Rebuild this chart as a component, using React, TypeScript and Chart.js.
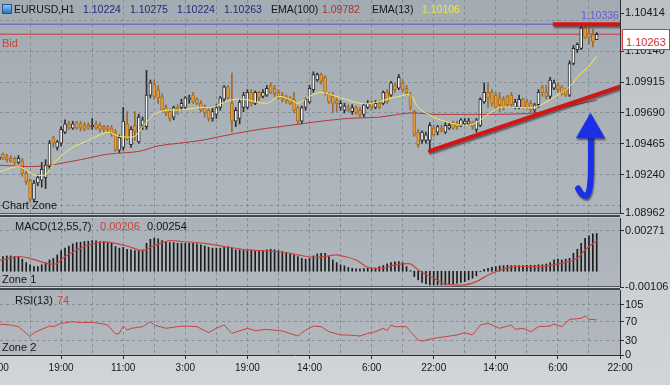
import React, { useEffect, useRef } from 'react';
import { Chart, registerables } from 'chart.js';

Chart.register(...registerables);

// ---------- price data (H1 candles, bar index 0..154) ----------
const OPEN = [
  1.0935, 1.0939, 1.0937, 1.0936, 1.0936, 1.0933, 1.0934, 1.0925, 1.0920, 1.0906,
  1.0918, 1.0920, 1.0922, 1.0930, 1.0951, 1.0944, 1.0947, 1.0955, 1.0961, 1.0958,
  1.0962, 1.0961, 1.0960, 1.0960, 1.0959, 1.0961, 1.0960, 1.0959, 1.0959, 1.0958,
  1.0955, 1.0942, 1.0944, 1.0961, 1.0946, 1.0960, 1.0948, 1.0960, 1.0959, 1.0982,
  1.0990, 1.0986, 1.0981, 1.0973, 1.0970, 1.0966, 1.0973, 1.0973, 1.0973, 1.0979,
  1.0982, 1.0979, 1.0976, 1.0973, 1.0971, 1.0965, 1.0968, 1.0973, 1.0979, 1.0988,
  1.0976, 1.0963, 1.0965, 1.0973, 1.0973, 1.0984, 1.0976, 1.0984, 1.0981, 1.0982,
  1.0989, 1.0987, 1.0984, 1.0982, 1.0981, 1.0980, 1.0979, 1.0973, 1.0963, 1.0973,
  1.0977, 1.0986, 1.0993, 1.0997, 1.0995, 1.0983, 1.0981, 1.0978, 1.0973, 1.0971,
  1.0973, 1.0970, 1.0973, 1.0971, 1.0968, 1.0973, 1.0976, 1.0973, 1.0976, 1.0976,
  1.0984, 1.0982, 1.0989, 1.0987, 1.0991, 1.0987, 1.0982, 1.0970, 1.0955, 1.0949,
  1.0949, 1.0949, 1.0958, 1.0955, 1.0958, 1.0955, 1.0958, 1.0962, 1.0961, 1.0960,
  1.0961, 1.0961, 1.0962, 1.0957, 1.0960, 1.0977, 1.0984, 1.0984, 1.0982, 1.0980,
  1.0979, 1.0981, 1.0982, 1.0973, 1.0973, 1.0979, 1.0977, 1.0976, 1.0971, 1.0975,
  1.0988, 1.0984, 1.0981, 1.0987, 1.0989, 1.0988, 1.0986, 1.0982, 1.1005, 1.1015,
  1.1016, 1.1031, 1.1027, 1.1026, 1.10224,
];
const HIGH = [
  1.0939, 1.0940, 1.0939, 1.0938, 1.0937, 1.0938, 1.0936, 1.0927, 1.0921, 1.0920,
  1.0924, 1.0933, 1.0935, 1.0949, 1.0952, 1.0949, 1.0959, 1.0964, 1.0963, 1.0963,
  1.0963, 1.0963, 1.0962, 1.0962, 1.0965, 1.0963, 1.0962, 1.0960, 1.0960, 1.0960,
  1.0957, 1.0953, 1.0973, 1.0970, 1.0959, 1.0970, 1.0968, 1.0966, 1.1000, 1.0993,
  1.0993, 1.0989, 1.0983, 1.0975, 1.0972, 1.0974, 1.0975, 1.0979, 1.0981, 1.0982,
  1.0984, 1.0980, 1.0978, 1.0975, 1.0973, 1.0973, 1.0975, 1.0981, 1.0989, 1.0989,
  1.0998, 1.0973, 1.0979, 1.0984, 1.0986, 1.0986, 1.0985, 1.0985, 1.0986, 1.0989,
  1.0991, 1.0989, 1.0986, 1.0984, 1.0982, 1.0981, 1.0984, 1.0974, 1.0974, 1.0980,
  1.0989, 1.0999, 1.0998, 1.0998, 1.0996, 1.0984, 1.0984, 1.0980, 1.0978, 1.0976,
  1.0975, 1.0975, 1.0974, 1.0973, 1.0976, 1.0978, 1.0978, 1.0978, 1.0978, 1.0985,
  1.0986, 1.0992, 1.0991, 1.0997, 1.0993, 1.0989, 1.0984, 1.0971, 1.0957, 1.0956,
  1.0955, 1.0962, 1.0960, 1.0960, 1.0960, 1.0962, 1.0962, 1.0963, 1.0963, 1.0965,
  1.0965, 1.0965, 1.0963, 1.0965, 1.0980, 1.0991, 1.0991, 1.0986, 1.0984, 1.0984,
  1.0981, 1.0982, 1.0984, 1.0979, 1.0982, 1.0980, 1.0979, 1.0978, 1.0976, 1.0986,
  1.0989, 1.0989, 1.0995, 1.0993, 1.0991, 1.0989, 1.0987, 1.1007, 1.1018, 1.1020,
  1.10336, 1.1032, 1.1031, 1.1030, 1.10275,
];
const LOW = [
  1.0933, 1.0935, 1.0933, 1.0933, 1.0931, 1.0932, 1.0923, 1.0917, 1.0904, 1.0904,
  1.0916, 1.0915, 1.0914, 1.0928, 1.0944, 1.0942, 1.0945, 1.0954, 1.0957, 1.0957,
  1.0957, 1.0956, 1.0956, 1.0957, 1.0957, 1.0957, 1.0955, 1.0955, 1.0955, 1.0952,
  1.0941, 1.0940, 1.0942, 1.0949, 1.0944, 1.0949, 1.0947, 1.0957, 1.0957, 1.0980,
  1.0979, 1.0976, 1.0970, 1.0967, 1.0963, 1.0964, 1.0968, 1.0971, 1.0972, 1.0976,
  1.0976, 1.0975, 1.0970, 1.0966, 1.0963, 1.0963, 1.0965, 1.0971, 1.0977, 1.0979,
  1.0955, 1.0959, 1.0961, 1.0970, 1.0972, 1.0974, 1.0975, 1.0978, 1.0980, 1.0981,
  1.0983, 1.0981, 1.0979, 1.0977, 1.0976, 1.0975, 1.0969, 1.0961, 1.0961, 1.0971,
  1.0976, 1.0984, 1.0992, 1.0990, 1.0982, 1.0976, 1.0969, 1.0970, 1.0971, 1.0969,
  1.0970, 1.0968, 1.0968, 1.0966, 1.0966, 1.0972, 1.0971, 1.0972, 1.0972, 1.0975,
  1.0976, 1.0981, 1.0984, 1.0986, 1.0984, 1.0982, 1.0971, 1.0952, 1.0944, 1.0947,
  1.0947, 1.0941, 1.0952, 1.0953, 1.0955, 1.0954, 1.0957, 1.0957, 1.0957, 1.0959,
  1.0960, 1.0960, 1.0957, 1.0955, 1.0959, 1.0976, 1.0973, 1.0974, 1.0972, 1.0970,
  1.0971, 1.0973, 1.0973, 1.0972, 1.0972, 1.0972, 1.0972, 1.0970, 1.0969, 1.0973,
  1.0981, 1.0979, 1.0979, 1.0986, 1.0984, 1.0982, 1.0981, 1.0981, 1.1004, 1.1013,
  1.1015, 1.1023, 1.1019, 1.1017, 1.10224,
];
const CLOSE = [
  1.0937, 1.0936, 1.0935, 1.0934, 1.0933, 1.0936, 1.0925, 1.0919, 1.0906, 1.0918,
  1.0922, 1.0928, 1.0931, 1.0947, 1.0947, 1.0948, 1.0957, 1.0961, 1.0958, 1.0961,
  1.0958, 1.0958, 1.0957, 1.0958, 1.0960, 1.0958, 1.0957, 1.0957, 1.0957, 1.0954,
  1.0942, 1.0951, 1.0963, 1.0950, 1.0957, 1.0956, 1.0966, 1.0964, 1.0982, 1.0991,
  1.0981, 1.0980, 1.0971, 1.0969, 1.0965, 1.0973, 1.0971, 1.0976, 1.0980, 1.0980,
  1.0977, 1.0976, 1.0971, 1.0969, 1.0965, 1.0970, 1.0973, 1.0980, 1.0988, 1.0980,
  1.0963, 1.0971, 1.0977, 1.0982, 1.0984, 1.0976, 1.0984, 1.0980, 1.0984, 1.0987,
  1.0984, 1.0983, 1.0981, 1.0979, 1.0978, 1.0976, 1.0971, 1.0963, 1.0973, 1.0979,
  1.0987, 1.0997, 1.0997, 1.0992, 1.0984, 1.0977, 1.0976, 1.0976, 1.0976, 1.0974,
  1.0971, 1.0973, 1.0969, 1.0968, 1.0975, 1.0976, 1.0973, 1.0976, 1.0973, 1.0984,
  1.0977, 1.0991, 1.0986, 1.0995, 1.0986, 1.0984, 1.0973, 1.0953, 1.0946, 1.0955,
  1.0953, 1.0960, 1.0953, 1.0959, 1.0956, 1.0960, 1.0960, 1.0958, 1.0959, 1.0964,
  1.0963, 1.0963, 1.0959, 1.0964, 1.0979, 1.0984, 1.0980, 1.0976, 1.0973, 1.0975,
  1.0973, 1.0975, 1.0975, 1.0977, 1.0979, 1.0973, 1.0973, 1.0971, 1.0975, 1.0984,
  1.0984, 1.0981, 1.0993, 1.0991, 1.0986, 1.0984, 1.0982, 1.1005, 1.1016, 1.1019,
  1.1031, 1.1024, 1.1024, 1.1021, 1.10263,
];

// ---------- moving averages (read at sample bars) ----------
const EMA13_BARS = [0, 5, 9, 12, 13, 15, 19, 23, 28, 31, 35, 37, 40, 43, 46, 52, 55, 59, 63, 69, 72, 75, 77, 80, 83, 88, 93, 96, 100, 103, 106, 108, 112, 116, 120, 123, 126, 129, 133, 138, 141, 145, 147, 149, 152, 154];
const EMA13 = [1.0926, 1.0930, 1.0924, 1.0924, 1.0928, 1.0935, 1.0944, 1.0949, 1.0955, 1.0952, 1.0952, 1.0959, 1.0968, 1.0971, 1.0971, 1.0973, 1.0973, 1.0978, 1.0979, 1.0976, 1.0981, 1.0979, 1.0976, 1.0981, 1.0984, 1.0980, 1.0976, 1.0976, 1.0979, 1.0981, 1.0982, 1.0973, 1.0966, 1.0962, 1.0960, 1.0962, 1.0968, 1.0973, 1.0973, 1.0973, 1.0977, 1.0984, 1.0988, 1.0995, 1.1003, 1.10106];
const EMA100_BARS = [0, 8, 13, 21, 28, 36, 41, 52, 59, 67, 75, 83, 90, 98, 106, 112, 120, 129, 138, 145, 154];
const EMA100 = [1.0931, 1.0930, 1.0931, 1.0935, 1.0939, 1.0941, 1.0945, 1.0949, 1.0953, 1.0957, 1.0960, 1.0963, 1.0965, 1.0966, 1.0969, 1.0968, 1.0968, 1.0968, 1.0969, 1.0973, 1.09782];

// ---------- MACD(12,55,7) ----------
const MACD_HIST = [
  0.00087, 0.00099, 0.00103, 0.00103, 0.00099, 0.00094, 0.00081, 0.00058, 0.00043, 0.00031,
  0.00031, 0.00043, 0.00058, 0.00076, 0.00087, 0.00110, 0.00139, 0.00155, 0.00170, 0.00184,
  0.00193, 0.00195, 0.00200, 0.00202, 0.00206, 0.00204, 0.00200, 0.00200, 0.00195, 0.00188,
  0.00166, 0.00155, 0.00161, 0.00148, 0.00144, 0.00139, 0.00139, 0.00144, 0.00188, 0.00215,
  0.00222, 0.00218, 0.00206, 0.00200, 0.00193, 0.00193, 0.00188, 0.00188, 0.00188, 0.00188,
  0.00188, 0.00184, 0.00177, 0.00170, 0.00161, 0.00155, 0.00155, 0.00155, 0.00161, 0.00166,
  0.00155, 0.00144, 0.00144, 0.00139, 0.00139, 0.00144, 0.00139, 0.00137, 0.00139, 0.00144,
  0.00148, 0.00144, 0.00139, 0.00132, 0.00126, 0.00117, 0.00110, 0.00099, 0.00087, 0.00081,
  0.00087, 0.00103, 0.00117, 0.00121, 0.00121, 0.00099, 0.00076, 0.00058, 0.00043, 0.00036,
  0.00025, 0.00020, 0.00016, 0.00016, 0.00018, 0.00020, 0.00020, 0.00022, 0.00031, 0.00038,
  0.00049, 0.00058, 0.00063, 0.00065, 0.00058, 0.00031, 0.00004, -0.00036, -0.00058, -0.00076,
  -0.00085, -0.00092, -0.00092, -0.00092, -0.00092, -0.00092, -0.00090, -0.00085, -0.00081, -0.00076,
  -0.00070, -0.00058, -0.00047, -0.00031, -0.00002, 0.00013, 0.00020, 0.00027, 0.00031, 0.00036,
  0.00038, 0.00040, 0.00038, 0.00038, 0.00038, 0.00038, 0.00040, 0.00040, 0.00040, 0.00043,
  0.00043, 0.00049, 0.00058, 0.00076, 0.00081, 0.00076, 0.00081, 0.00087, 0.00121, 0.00148,
  0.00188, 0.00222, 0.00238, 0.00251, 0.00254,
];
const SIGNAL_BARS = [0, 5, 8, 13, 15, 17, 22, 26, 29, 33, 37, 40, 44, 47, 53, 58, 64, 69, 74, 77, 81, 85, 87, 92, 95, 99, 102, 106, 108, 112, 115, 120, 123, 126, 130, 133, 140, 145, 149, 151, 154];
const SIGNAL = [0.00072, 0.00099, 0.00087, 0.00049, 0.00054, 0.00099, 0.00166, 0.00195, 0.00193, 0.00170, 0.00139, 0.00173, 0.00206, 0.00200, 0.00188, 0.00166, 0.00144, 0.00137, 0.00126, 0.00110, 0.00094, 0.00103, 0.00110, 0.00076, 0.00027, 0.00020, 0.00043, 0.00049, 0.00009, -0.00047, -0.00085, -0.00092, -0.00070, -0.00025, 0.00016, 0.00031, 0.00031, 0.00054, 0.00087, 0.00144, 0.00206];

// ---------- RSI(13) ----------
const RSI_BARS = [0, 3, 5, 8, 9, 11, 13, 14, 16, 19, 21, 24, 27, 28, 30, 31, 32, 33, 34, 37, 39, 40, 43, 46, 48, 51, 54, 56, 58, 60, 64, 66, 69, 73, 77, 79, 81, 83, 85, 88, 90, 93, 95, 97, 99, 100, 101, 102, 105, 106, 108, 109, 112, 115, 118, 120, 122, 124, 126, 128, 129, 132, 133, 135, 137, 139, 142, 143, 145, 147, 150, 151, 152, 154];
const RSI = [65.1, 63.0, 59.5, 38.5, 46.9, 53.9, 60.9, 59.5, 66.5, 70.0, 67.9, 68.6, 65.1, 63.0, 44.1, 45.5, 60.9, 52.5, 56.0, 59.5, 70.0, 63.0, 56.0, 59.5, 60.9, 59.5, 46.9, 56.0, 63.0, 45.5, 56.0, 51.1, 53.9, 50.4, 39.9, 52.5, 60.9, 59.5, 49.0, 42.0, 42.0, 39.9, 45.5, 49.0, 56.0, 51.1, 63.0, 59.5, 59.5, 49.0, 31.5, 29.4, 35.0, 38.5, 42.0, 46.9, 42.0, 63.0, 66.5, 59.5, 56.0, 63.0, 53.9, 56.0, 49.0, 59.5, 60.9, 65.1, 59.5, 74.9, 77.0, 81.9, 74.9, 74];

// ---------- axis ticks ----------
const TIME_LABELS = ['3:00', '19:00', '11:00', '3:00', '19:00', '14:00', '6:00', '22:00', '14:00', '6:00', '22:00'];
const GRID_BARS = [0, 8, 16, 24, 32, 40, 48, 56, 64, 72, 80, 88, 96, 104, 112, 120, 128, 136, 144, 152, 160];
const LABEL_EVERY = 16;
const X_MIN = -7.48;
const X_MAX = 160;
const PRICE_MIN = 1.08962;
const PRICE_MAX = 1.10512;
const PRICE_TICKS = [1.08962, 1.09015, 1.0924, 1.09465, 1.0969, 1.09915, 1.1014, 1.10365, 1.10414];
const PRICE_LABELED = [1.08962, 1.0924, 1.09465, 1.0969, 1.09915, 1.1014, 1.10414];
const PRICE_GRID = [1.09015, 1.0924, 1.09465, 1.0969, 1.09915, 1.1014, 1.10365];
const MACD_MIN = -0.00106;
const MACD_MAX = 0.00358;
const MACD_TICKS = [-0.00106, 0.00271];
const MACD_GRID = [0.00271];
const RSI_MIN = 0;
const RSI_MAX = 136.5;
const RSI_TICKS = [0, 30, 70, 105];
const RSI_GRID = [30, 70, 105];

// ---------- drawn objects ----------
const HIGH_LEVEL = 1.10336;
const BID = 1.10263;
const HIGH_MARK_BARS = [142.7, 160];
const TREND_BARS = [111, 160];
const TREND = [1.09414, 1.09882];
const ARROW_BARS = [152.5, 152.5, 152.3, 151.5, 150.2, 149.2];
const ARROW = [1.0951, 1.0931, 1.0917, 1.0909, 1.091, 1.0914];
const ARROW_HEAD_BAR = 152.4;
const ARROW_HEAD = 1.09567;

const FONT = "'Liberation Sans', Arial, sans-serif";
const GRID_COLOR = '#858d95';
const AXIS_COLOR = '#2a2f35';
const TEXT = '#161616';
const RED = '#c9433d';

const pts = (xs: number[], ys: number[]) => xs.map((x, i) => ({ x, y: ys[i] }));

const bgPlugin = (id: string, top: string, bottom: string) => ({
  id,
  beforeDraw(chart: any) {
    const { ctx, chartArea: a } = chart;
    const g = ctx.createLinearGradient(0, a.top, 0, a.bottom);
    g.addColorStop(0, top);
    g.addColorStop(1, bottom);
    ctx.save();
    ctx.fillStyle = g;
    ctx.fillRect(a.left, a.top, a.right - a.left, a.bottom - a.top);
    ctx.restore();
  },
});

// soft drop shadow under the hand-drawn objects (style only)
const shadowPlugin = {
  id: 'objShadow',
  beforeDatasetDraw(chart: any, args: any) {
    const ds = chart.data.datasets[args.index];
    if (!ds || !ds.shadow) return;
    const ctx = chart.ctx;
    ctx.save();
    ctx.shadowColor = 'rgba(35,35,40,0.55)';
    ctx.shadowOffsetX = 1;
    ctx.shadowOffsetY = 2;
    ctx.shadowBlur = 1.5;
  },
  afterDatasetDraw(chart: any, args: any) {
    const ds = chart.data.datasets[args.index];
    if (!ds || !ds.shadow) return;
    chart.ctx.restore();
  },
};

const xAxis = (labels: boolean) => ({
  type: 'linear',
  min: X_MIN,
  max: X_MAX,
  offset: false,
  afterBuildTicks: (s: any) => {
    s.ticks = GRID_BARS.map((v) => ({ value: v }));
  },
  afterFit: (s: any) => {
    s.height = labels ? 30 : 9;
    s.paddingLeft = 0;
    s.paddingRight = 0;
  },
  grid: {
    color: GRID_COLOR,
    lineWidth: 1,
    offset: false,
    drawTicks: labels,
    tickLength: 4,
    tickWidth: 1,
    tickBorderDash: [],
    tickColor: (c: any) => (c.tick && c.tick.value % LABEL_EVERY === 0 ? AXIS_COLOR : 'rgba(0,0,0,0)'),
  },
  border: { display: labels, color: AXIS_COLOR, width: 1, dash: [3, 3] },
  ticks: {
    display: labels,
    autoSkip: false,
    maxRotation: 0,
    minRotation: 0,
    padding: 3,
    color: TEXT,
    font: { family: FONT, size: 10 },
    callback: (v: number) => (v % LABEL_EVERY === 0 ? TIME_LABELS[v / LABEL_EVERY] : ''),
  },
});

const yAxis = (min: number, max: number, ticks: number[], labeled: number[], gridded: number[], fmt: (v: number) => string) => ({
  type: 'linear',
  position: 'right',
  min,
  max,
  afterBuildTicks: (s: any) => {
    s.ticks = ticks.map((v) => ({ value: v }));
  },
  afterFit: (s: any) => {
    s.width = 50;
    s.paddingTop = 0;
    s.paddingBottom = 0;
  },
  grid: {
    color: (c: any) => (c.tick && gridded.includes(c.tick.value) ? GRID_COLOR : 'rgba(0,0,0,0)'),
    lineWidth: 1,
    drawTicks: true,
    tickLength: 4,
    tickWidth: 1,
    tickBorderDash: [],
    tickColor: (c: any) => (c.tick && labeled.includes(c.tick.value) ? AXIS_COLOR : 'rgba(0,0,0,0)'),
  },
  border: { display: true, color: AXIS_COLOR, width: 1, dash: [3, 3] },
  ticks: {
    autoSkip: false,
    padding: 1,
    color: TEXT,
    font: { family: FONT, size: 11 },
    callback: (v: number) => (labeled.includes(v) ? fmt(v) : ''),
  },
});

const baseOptions = (x: any, y: any, padTop: number) => ({
  responsive: false,
  maintainAspectRatio: false,
  devicePixelRatio: 1,
  animation: false,
  events: [],
  layout: { autoPadding: false, padding: { top: padTop, left: 0, right: 0, bottom: 0 } },
  plugins: { legend: { display: false }, tooltip: { enabled: false } },
  scales: { x, y },
});

const isBull = (i: number) => CLOSE[i] >= OPEN[i];

export default function App() {
  const mainRef = useRef<HTMLCanvasElement>(null);
  const macdRef = useRef<HTMLCanvasElement>(null);
  const rsiRef = useRef<HTMLCanvasElement>(null);

  useEffect(() => {
    const line = (data: any[], color: string, width: number, order: number, extra: any = {}) => ({
      type: 'line',
      data,
      borderColor: color,
      borderWidth: width,
      pointRadius: 0,
      pointHoverRadius: 0,
      fill: false,
      order,
      ...extra,
    });

    const main = new Chart(mainRef.current as any, {
      type: 'bar',
      data: {
        datasets: [
          line(pts([X_MIN, X_MAX], [HIGH_LEVEL, HIGH_LEVEL]), '#6a4fc6', 1, 9),
          line(pts([X_MIN, X_MAX], [BID, BID]), '#c63d3d', 1, 9),
          {
            type: 'bar',
            data: OPEN.map((_, i) => ({ x: i, y: [LOW[i], HIGH[i]] })),
            backgroundColor: OPEN.map((_, i) => (isBull(i) ? '#2e2e2e' : '#9c6a30')),
            borderWidth: 0,
            barThickness: 1,
            grouped: false,
            order: 8,
          },
          {
            type: 'bar',
            data: OPEN.map((o, i) => ({ x: i, y: [o, CLOSE[i]] })),
            backgroundColor: OPEN.map((_, i) => (isBull(i) ? '#f3f3f1' : '#eaa034')),
            borderColor: OPEN.map((_, i) => (isBull(i) ? '#2c2c2c' : '#a86c22')),
            borderWidth: 1,
            borderSkipped: false,
            barThickness: 3,
            grouped: false,
            order: 7,
          },
          line(pts(EMA100_BARS, EMA100), '#b2393a', 1, 6, { tension: 0.3 }),
          line(pts(EMA13_BARS, EMA13), '#f1ec62', 1, 5, { tension: 0.3 }),
          line(pts(HIGH_MARK_BARS, [HIGH_LEVEL, HIGH_LEVEL]), '#d41414', 4, 4, { shadow: true }),
          line(pts(TREND_BARS, TREND), '#d11616', 4, 3, { borderCapStyle: 'round', shadow: true }),
          line(pts(ARROW_BARS, ARROW), '#1a2fe6', 6, 2, { tension: 0.4, borderCapStyle: 'round', borderJoinStyle: 'round', shadow: true }),
          {
            type: 'line',
            data: [{ x: ARROW_HEAD_BAR, y: ARROW_HEAD }],
            showLine: false,
            pointStyle: 'triangle',
            pointRadius: 17,
            pointHoverRadius: 17,
            pointBackgroundColor: '#1a2fe6',
            pointBorderColor: '#1a2fe6',
            pointBorderWidth: 0,
            order: 1,
            shadow: true,
          },
        ],
      },
      options: baseOptions(
        xAxis(false),
        yAxis(PRICE_MIN, PRICE_MAX, PRICE_TICKS, PRICE_LABELED, PRICE_GRID, (v) => v.toFixed(5)),
        0,
      ) as any,
      plugins: [bgPlugin('bgMain', '#a3abb3', '#afb6bd'), shadowPlugin],
    } as any);

    const macd = new Chart(macdRef.current as any, {
      type: 'bar',
      data: {
        datasets: [
          {
            type: 'bar',
            data: MACD_HIST.map((v, i) => ({ x: i, y: v })),
            backgroundColor: '#1c1c1c',
            borderWidth: 0,
            barThickness: 1,
            order: 2,
          },
          line(pts(SIGNAL_BARS, SIGNAL), '#c9453f', 1.2, 1, { tension: 0.3 }),
        ],
      },
      options: baseOptions(
        xAxis(false),
        yAxis(MACD_MIN, MACD_MAX, MACD_TICKS, MACD_TICKS, MACD_GRID, (v) => v.toFixed(5)),
        4,
      ) as any,
      plugins: [bgPlugin('bgMacd', '#abb2b9', '#b1b7bd')],
    } as any);

    const rsi = new Chart(rsiRef.current as any, {
      type: 'line',
      data: {
        datasets: [line(pts(RSI_BARS, RSI), '#c9453f', 1, 1)],
      },
      options: baseOptions(
        xAxis(true),
        yAxis(RSI_MIN, RSI_MAX, RSI_TICKS, RSI_TICKS, RSI_GRID, (v) => String(v)),
        4,
      ) as any,
      plugins: [bgPlugin('bgRsi', '#adb3ba', '#b3b9bf')],
    } as any);

    return () => {
      main.destroy();
      macd.destroy();
      rsi.destroy();
    };
  }, []);

  const T = (p: { x: number; y: number; c?: string; s?: number; children: any }) => (
    <div
      style={{
        position: 'absolute',
        left: p.x,
        top: p.y,
        color: p.c || TEXT,
        fontSize: p.s || 11,
        lineHeight: '12px',
        whiteSpace: 'nowrap',
        fontFamily: FONT,
      }}
    >
      {p.children}
    </div>
  );

  const last = OPEN.length - 1;
  const navy = '#1f2d78';
  const sep = (top: number) => (
    <div
      style={{
        position: 'absolute',
        left: 0,
        top,
        width: 620,
        height: 4,
        background: 'linear-gradient(#50575e 0px, #50575e 1px, #cdd1d4 1px, #cdd1d4 2px, #40464d 2px, #40464d 4px)',
      }}
    />
  );

  return (
    <div
      style={{
        position: 'fixed',
        left: 0,
        top: 0,
        width: 670,
        height: 385,
        overflow: 'hidden',
        background: 'linear-gradient(180deg, #bcc1c6 0%, #d2d5d8 100%)',
        fontFamily: FONT,
      }}
    >
      <canvas ref={mainRef} width={700} height={222} style={{ position: 'absolute', left: -30, top: 0, width: 700, height: 222 }} />
      <canvas ref={macdRef} width={700} height={82} style={{ position: 'absolute', left: -30, top: 214, width: 700, height: 82 }} />
      <canvas ref={rsiRef} width={700} height={99} style={{ position: 'absolute', left: -30, top: 286, width: 700, height: 99 }} />

      {sep(213)}
      {sep(286)}

      <div
        style={{
          position: 'absolute',
          left: 2,
          top: 4,
          width: 8,
          height: 8,
          background: 'linear-gradient(180deg, #8cc4f2, #2f72c4)',
          border: '1px solid #27548e',
        }}
      />
      <T x={14} y={3} s={10.5}>EURUSD,H1</T>
      <T x={83} y={3} s={10.5} c={navy}>{OPEN[last].toFixed(5)}</T>
      <T x={130} y={3} s={10.5} c={navy}>{HIGH[last].toFixed(5)}</T>
      <T x={177} y={3} s={10.5} c={navy}>{LOW[last].toFixed(5)}</T>
      <T x={224} y={3} s={10.5} c={navy}>{CLOSE[last].toFixed(5)}</T>
      <T x={271} y={3} s={10.5}>EMA(100)</T>
      <T x={322} y={3} s={10.5} c="#b3302b">{EMA100[EMA100.length - 1].toFixed(5)}</T>
      <T x={372} y={3} s={10.5}>EMA(13)</T>
      <T x={422} y={3} s={10.5} c="#f2ea2e">{EMA13[EMA13.length - 1].toFixed(5)}</T>

      <T x={2} y={37} c="#c44545">Bid</T>
      <T x={581} y={9} s={10.5} c="#6a55cc">{HIGH_LEVEL.toFixed(5)}</T>
      <T x={2} y={199}>Chart Zone</T>

      <T x={15} y={220}>MACD(12,55,7)</T>
      <T x={100} y={220} c={RED}>{SIGNAL[SIGNAL.length - 1].toFixed(5)}</T>
      <T x={147} y={220}>{MACD_HIST[MACD_HIST.length - 1].toFixed(5)}</T>
      <T x={2} y={273}>Zone 1</T>

      <T x={15} y={294}>RSI(13)</T>
      <T x={57} y={294} c={RED}>{String(RSI[RSI.length - 1])}</T>
      <T x={2} y={341}>Zone 2</T>

      <div
        style={{
          position: 'absolute',
          left: 622,
          top: 29,
          width: 48,
          height: 21,
          boxSizing: 'border-box',
          background: '#ffffff',
          border: '1px solid #d23a3a',
        }}
      />
      <T x={626} y={36} c="#d03030">{BID.toFixed(5)}</T>
    </div>
  );
}
